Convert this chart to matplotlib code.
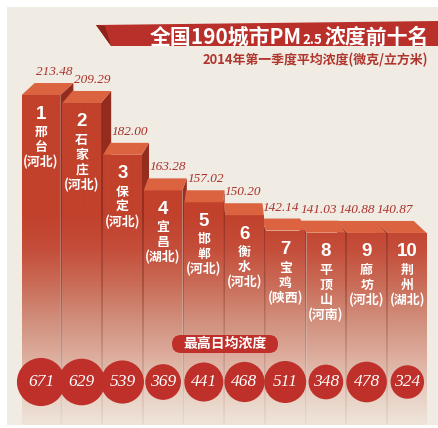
import numpy as np
import matplotlib
matplotlib.use('Agg')
import matplotlib.pyplot as plt
from matplotlib.patches import Polygon, Rectangle, FancyBboxPatch
from matplotlib.colors import LinearSegmentedColormap

plt.rcParams['font.family'] = ['Noto Sans CJK SC', 'DejaVu Sans']

# 2014年第一季度 PM2.5 前十名城市
ranks = ['1', '2', '3', '4', '5', '6', '7', '8', '9', '10']
cities = ['邢台', '石家庄', '保定', '宜昌', '邯郸', '衡水', '宝鸡', '平顶山', '廊坊', '荆州']
provinces = ['河北', '河北', '河北', '湖北', '河北', '河北', '陕西', '河南', '河北', '湖北']
pm_avg = [213.48, 209.29, 182.00, 163.28, 157.02, 150.20, 142.14, 141.03, 140.88, 140.87]
pm_max = [671, 629, 539, 369, 441, 468, 511, 348, 478, 324]

W, H = 438, 428
BG = '#f0ebe3'
RED = '#be3029'
TOP = '#dc6340'
LABEL = '#a9302a'
PT = 0.72  # 像素 -> 磅

fig = plt.figure(figsize=(W / 100, H / 100), dpi=100, facecolor='white')
ax = fig.add_axes([0, 0, 1, 1])
ax.set_axis_off()
ax.patch.set_visible(False)
inch = fig.dpi_scale_trans

X0, X1 = -41 / 40.7, (W - 41) / 40.7
Y0, Y1 = 38.2, 263.5
PPV = H / (Y1 - Y0)


def px(x, y):
    return (x / 100, (H - y) / 100)


# 背景
ax.add_patch(Rectangle(px(7, 425), 431 / 100, 418 / 100, transform=inch,
                       fc=BG, ec='none', zorder=0.5))

front_cmap = LinearSegmentedColormap.from_list('front', [
    (0, '#c2412b'), (0.5, '#c1412c'), (0.58, '#c44d39'), (0.66, '#c96a56'),
    (0.75, '#d18f7c'), (0.83, '#dcab9b'), (0.93, '#e8d2c5'), (1, '#efe6dc')])
side_cmap = LinearSegmentedColormap.from_list('side', [
    (0, '#8f2a1e'), (0.5, '#982f20'), (0.66, '#a8503f'), (0.8, '#c08878'),
    (0.93, '#dcc2b5'), (1, '#e9ddd2')])
grad = np.linspace(0, 1, H)[:, None]


def grad_poly(verts, cmap, z):
    p = Polygon(verts, closed=True, fc='none', ec='none')
    ax.add_patch(p)
    im = ax.imshow(grad, cmap=cmap, vmin=0, vmax=1, extent=(X0, X1, Y0, Y1),
                   aspect='auto', origin='upper', zorder=z, interpolation='bilinear')
    im.set_clip_path(p)


half = 0.475
dy = 12 / PPV
ybot = Y0 + 3 / PPV
order = [0, 1, 2, 3, 4, 9, 8, 7, 6, 5]
for k, i in enumerate(order):
    v = pm_avg[i]
    dx = 0.0708 * (4.52 - i)
    xl, xr = i - half, i + half
    z = 2 + k * 0.1
    if dx > 0:
        side = [(xr, ybot), (xr, v), (xr + dx, v + dy), (xr + dx, ybot)]
    else:
        side = [(xl, ybot), (xl, v), (xl + dx, v + dy), (xl + dx, ybot)]
    grad_poly(side, side_cmap, z)
    grad_poly([(xl, ybot), (xl, v), (xr, v), (xr, ybot)], front_cmap, z + 0.01)
    ax.add_patch(Polygon([(xl, v), (xr, v), (xr + dx, v + dy), (xl + dx, v + dy)],
                         fc=TOP, ec='none', zorder=z + 0.02))

    dxp = dx * 40.7
    ax.annotate(f'{v:.2f}', (i, v), xytext=(dxp * PT, 23 * PT), textcoords='offset points',
                ha='center', va='center', color=LABEL, fontsize=9.5, style='italic',
                family='Liberation Serif', zorder=12)
    ax.annotate(ranks[i], (i, v), xytext=(0, -19 * PT), textcoords='offset points',
                ha='center', va='center', color='white', fontsize=13.5, fontweight='bold',
                family='Liberation Sans', zorder=12)
    lines = list(cities[i]) + ['(' + provinces[i] + ')']
    for j, s in enumerate(lines):
        ax.annotate(s, (i, v), xytext=(0, -(37 + 15 * j) * PT), textcoords='offset points',
                    ha='center', va='center', color='white', fontsize=9.3,
                    fontweight='bold', zorder=12)

# 最高日均浓度
CY = 1 - 382 / H
ax.scatter(range(len(pm_max)), [CY] * len(pm_max), s=[1.79 * m for m in pm_max],
           c=RED, linewidths=0, transform=ax.get_xaxis_transform(), zorder=20)
for i, m in enumerate(pm_max):
    ax.text(i, CY, str(m), transform=ax.get_xaxis_transform(), ha='center', va='center',
            color='white', fontsize=12.5, style='italic', family='Liberation Serif', zorder=21)

ax.add_patch(FancyBboxPatch(px(172, 353), 106 / 100, 18 / 100,
                            boxstyle='round,pad=0,rounding_size=0.09',
                            transform=inch, fc=RED, ec='none', zorder=20))
ax.text(*px(225, 344), '最高日均浓度', transform=inch, ha='center', va='center',
        color='white', fontsize=10, fontweight='bold', zorder=21)

# 标题横幅
ax.add_patch(Polygon([px(96, 25), px(438, 21), px(438, 46), px(111, 46)],
                     transform=inch, fc='#b9302a', ec='none', zorder=20))
ax.add_patch(Polygon([px(96, 25), px(105, 26), px(111, 46)],
                     transform=inch, fc='#8c2219', ec='none', zorder=20.5))
base = px(0, 43.5)[1]
t1 = ax.text(150 / 100, base, '全国190城市PM', transform=inch, ha='left', va='baseline',
             color='white', fontsize=15, fontweight='bold', zorder=21)
t2 = ax.annotate('2.5', xy=(1, base), xycoords=(t1, inch), xytext=(0.5, 0),
                 textcoords='offset points', ha='left', va='baseline',
                 color='white', fontsize=9.5, fontweight='bold', zorder=21)
t3 = ax.annotate('浓度前十名', xy=(1, base), xycoords=(t2, inch), xytext=(1, 0),
                 textcoords='offset points', ha='left', va='baseline',
                 color='white', fontsize=15, fontweight='bold', zorder=21)
ax.text(*px(428, 60), '2014年第一季度平均浓度(微克/立方米)', transform=inch,
        ha='right', va='center', color='#b0352c', fontsize=9.3, fontweight='bold', zorder=21)

ax.set_xlim(X0, X1)
ax.set_ylim(Y0, Y1)
fig.savefig('out.png', dpi=100, facecolor='white')
